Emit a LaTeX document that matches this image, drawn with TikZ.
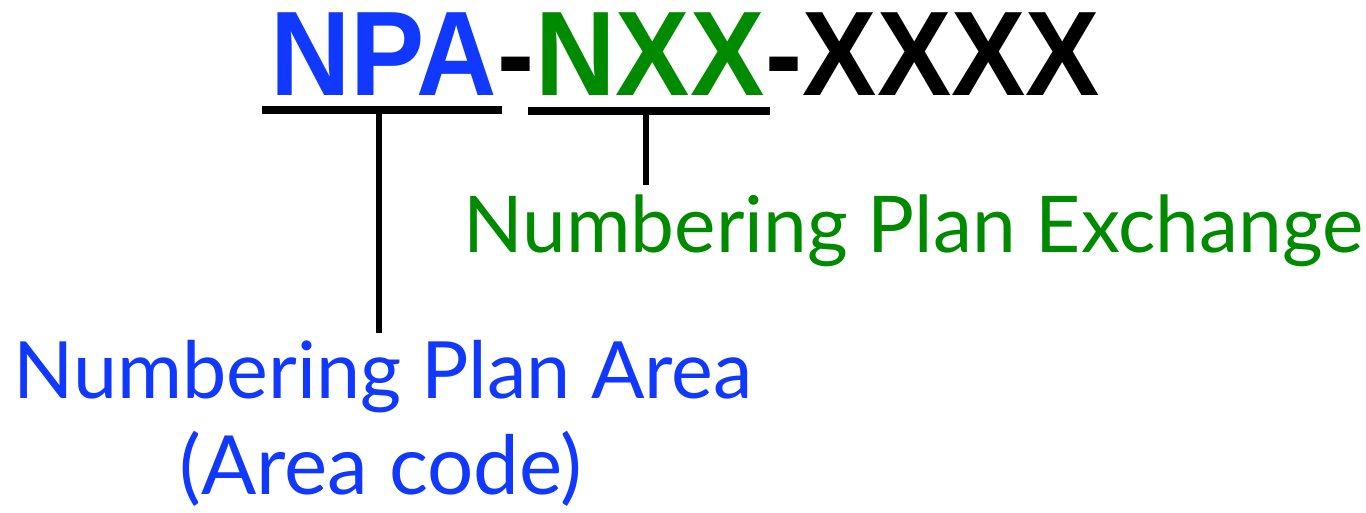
\documentclass[tikz,border=0pt]{standalone}
\usepackage{fontspec}
\setmainfont{Lato}
\newfontfamily\codefont{Liberation Sans}[FakeStretch=0.925]
\usepackage{tikz}
\usetikzlibrary{positioning, calc}
\definecolor{npaBlue}{RGB}{16,56,255}
\definecolor{nxxGreen}{RGB}{0,138,0}

\begin{document}
\begin{tikzpicture}[
  x=0.02cm, y=-0.02cm,
  code/.style={inner sep=0pt, anchor=base west,
               font=\codefont\bfseries\fontsize{68.5}{75}\selectfont},
  label/.style={inner sep=0pt, font=\fontsize{45}{54}\selectfont},
  bar/.style={line width=4pt},
  stem/.style={line width=3.4pt},
]
  \useasboundingbox (0,0) rectangle (1366,512);

  % the number pattern
  \node[code, text=npaBlue] (npa) at (270,95) {NPA};
  \node[code] (dashA) at (npa.base east) {-};
  \node[code, text=nxxGreen] (nxx) at (dashA.base east) {NXX};
  \node[code] (dashB) at (nxx.base east) {-};
  \node[code] (line) at (dashB.base east) {XXXX};

  % underlines
  \coordinate (npaL) at (262,110);
  \coordinate (npaR) at (502,110);
  \coordinate (npaBar) at (379,110);
  \coordinate (nxxL) at (528,111);
  \coordinate (nxxR) at (770,111);
  \coordinate (nxxBar) at (646,111);
  \draw[bar] (npaL) -- (npaR);
  \draw[bar] (nxxL) -- (nxxR);

  % labels
  \node[label, text=nxxGreen, anchor=base west, font=\fontsize{44.6}{54}\selectfont]
    (nxxText) at (463,252) {Numbering Plan Exchange};
  \node[label, text=npaBlue, anchor=base west] (npaText) at (13,398)
    {Numbering Plan Area};
  \node[label, text=npaBlue, anchor=base, font=\fontsize{46.5}{54}\selectfont]
    (npaSub) at (381,494) {(Area code)};

  % stems
  \draw[stem] (npaBar) -- (npaBar |- 0,333);
  \draw[stem] (nxxBar) -- (nxxBar |- 0,185);
\end{tikzpicture}
\end{document}
